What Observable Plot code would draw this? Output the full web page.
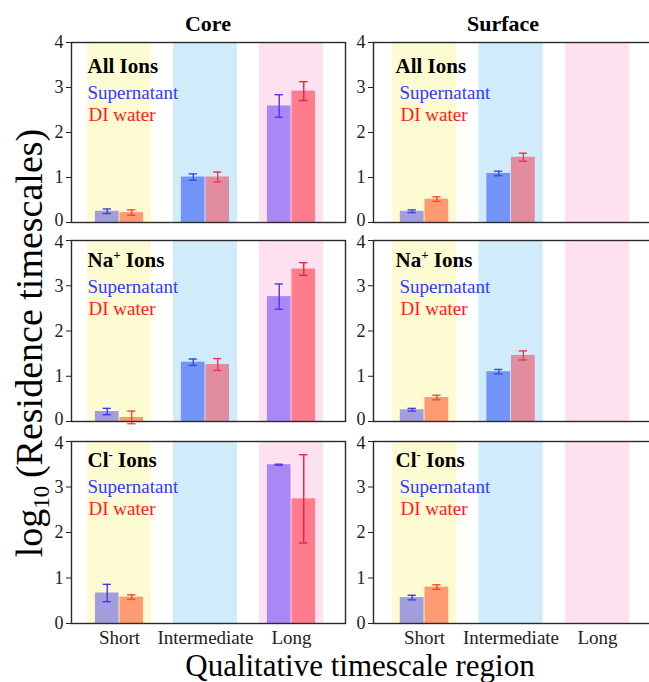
<!DOCTYPE html>
<html><head><meta charset="utf-8">
<script src="https://cdn.jsdelivr.net/npm/d3@7"></script>
<script src="https://cdn.jsdelivr.net/npm/@observablehq/plot@0.6"></script>
<style>
html,body{margin:0;padding:0;background:#fff;}
body{width:649px;height:682px;overflow:hidden;position:relative;font-family:"Liberation Serif","Times New Roman",serif;}
.wrap{position:absolute;}
.wrap svg{display:block;}
.wrap svg text{font-family:"Liberation Serif","Times New Roman",serif;}
#overlay{position:absolute;left:0;top:0;pointer-events:none;}
#overlay text{font-family:"Liberation Serif","Times New Roman",serif;}
</style></head><body>
<script>
// ---------- data ----------
const regions = ["Short", "Intermediate", "Long"];
const locations = ["Core", "Surface"];
const ionTitles = ["All Ions", "Na+ Ions", "Cl- Ions"];
const seriesNames = ["Supernatant", "DI water"];
const yTicks = [0, 1, 2, 3, 4];

// log10 residence timescales (Short, Intermediate, Long); null = no bar
const coreAllSup = [0.25, 1.01, 2.59];
const coreAllSupErr = [0.05, 0.07, 0.25];
const coreAllDI = [0.22, 1.01, 2.92];
const coreAllDIErr = [0.06, 0.11, 0.21];
const surfAllSup = [0.25, 1.09, null];
const surfAllSupErr = [0.03, 0.05, null];
const surfAllDI = [0.52, 1.45, null];
const surfAllDIErr = [0.05, 0.09, null];

const coreNaSup = [0.22, 1.31, 2.76];
const coreNaSupErr = [0.07, 0.07, 0.28];
const coreNaDI = [0.09, 1.26, 3.37];
const coreNaDIErr = [0.14, 0.13, 0.14];
const surfNaSup = [0.26, 1.10, null];
const surfNaSupErr = [0.03, 0.05, null];
const surfNaDI = [0.53, 1.46, null];
const surfNaDIErr = [0.05, 0.10, null];

const coreClSup = [0.67, null, 3.49];
const coreClSupErr = [0.19, null, 0.01];
const coreClDI = [0.58, null, 2.74];
const coreClDIErr = [0.05, null, 0.97];
const surfClSup = [0.57, null, null];
const surfClSupErr = [0.05, null, null];
const surfClDI = [0.80, null, null];
const surfClDIErr = [0.05, null, null];

// ---------- styles ----------
const bandColors = ["#fdfbd1", "#d0ecfa", "#fde1f0"];
const supBarColors = ["#a29ede", "#7395f7", "#a987f5"];
const diBarColors = ["#ff9b72", "#e28ca0", "#ff7c8d"];
const supErrColors = ["#3d3ee6", "#2f4cf0", "#4a3be8"];
const diErrColors = ["#ff4a22", "#e83550", "#f0203c"];
const supTextColor = "#2f3cff";
const diTextColor = "#ff1a1a";
const FONT = "'Liberation Serif', 'Times New Roman', serif";

const grid = [
  [[coreAllSup, coreAllSupErr, coreAllDI, coreAllDIErr], [surfAllSup, surfAllSupErr, surfAllDI, surfAllDIErr]],
  [[coreNaSup, coreNaSupErr, coreNaDI, coreNaDIErr], [surfNaSup, surfNaSupErr, surfNaDI, surfNaDIErr]],
  [[coreClSup, coreClSupErr, coreClDI, coreClDIErr], [surfClSup, surfClSupErr, surfClDI, surfClDIErr]]
];

// layout (pixels)
const rowsPx = [[42, 222], [240, 421], [441, 623]];
const cols = [
  {left: 0, axis: 71, right: 345, domain: [-0.558, 2.628], tickPad: 6.5, textDx: [16, 16, 17]},
  {left: 302, axis: 373, right: 660, domain: [-0.59, 2.728], tickPad: 7, textDx: [22, 26, 27]}
];
const barHalf = 0.28, gap = 0.005, bandHalf = 0.372, capHalf = 0.048;

function makePanel(r, c) {
  const [sup, supErr, di, diErr] = grid[r][c];
  const col = cols[c];
  const [top, bottom] = rowsPx[r];
  const mt = 5, mb = r === 2 ? 40 : 5, ml = 71, mr = 6;
  const width = ml + (col.right - col.axis) + mr;
  const height = mt + (bottom - top) + mb;

  const bands = regions.map((name, i) => ({x1: i - bandHalf, x2: i + bandHalf, fill: bandColors[i]}));
  const bars = [], errs = [];
  regions.forEach((name, i) => {
    if (sup[i] != null) {
      bars.push({x1: i - barHalf, x2: i - gap, y: sup[i], fill: supBarColors[i]});
      errs.push({x: i - (barHalf + gap) / 2, y: sup[i], e: supErr[i], stroke: supErrColors[i]});
    }
    if (di[i] != null) {
      bars.push({x1: i + gap, x2: i + barHalf, y: di[i], fill: diBarColors[i]});
      errs.push({x: i + (barHalf + gap) / 2, y: di[i], e: diErr[i], stroke: diErrColors[i]});
    }
  });
  const caps = errs.flatMap(d => [{...d, yc: d.y - d.e}, {...d, yc: d.y + d.e}]);

  const dy0 = [30, 26, 25][r];
  const marks = [
    Plot.rect(bands, {x1: "x1", x2: "x2", y1: 0, y2: 4, fill: "fill"}),
    Plot.rect(bars, {x1: "x1", x2: "x2", y1: 0, y2: "y", fill: "fill"}),
    Plot.ruleX(errs, {x: "x", y1: d => d.y - d.e, y2: d => d.y + d.e, stroke: "stroke", strokeWidth: 1.4}),
    Plot.ruleY(caps, {y: "yc", x1: d => d.x - capHalf, x2: d => d.x + capHalf, stroke: "stroke", strokeWidth: 1.4}),
    Plot.frame({stroke: "#2a2a2a", strokeWidth: 1.4}),
    Plot.axisY({ticks: yTicks, tickSize: 5, tickPadding: 3, tickFormat: d => String(d), label: null, fontSize: 18, fontFamily: FONT}),
    Plot.text([ionTitles[r]], {frameAnchor: "top-left", dx: col.textDx[0], dy: dy0, textAnchor: "start", lineAnchor: "bottom", fontWeight: "bold", fontSize: 21, fill: "#000", fontFamily: FONT}),
    Plot.text([seriesNames[0]], {frameAnchor: "top-left", dx: col.textDx[1], dy: dy0 + 26, textAnchor: "start", lineAnchor: "bottom", fontSize: 19, fill: supTextColor, fontFamily: FONT}),
    Plot.text([seriesNames[1]], {frameAnchor: "top-left", dx: col.textDx[2], dy: dy0 + 48, textAnchor: "start", lineAnchor: "bottom", fontSize: 19, fill: diTextColor, fontFamily: FONT})
  ];
  if (r === 2) {
    marks.push(Plot.axisX({ticks: [0, 1, 2], tickFormat: i => regions[i], tickSize: 0, tickPadding: col.tickPad, label: null, fontSize: 19, fontFamily: FONT}));
  }
  const svg = Plot.plot({
    width, height,
    marginLeft: ml, marginRight: mr, marginTop: mt, marginBottom: mb,
    x: {domain: col.domain, axis: r === 2 ? undefined : null},
    y: {domain: [0, 4]},
    color: {type: "identity"},
    style: {fontFamily: FONT, fontSize: "19px", color: "#222", background: "transparent", overflow: "visible"},
    marks
  });
  const ns = "http://www.w3.org/2000/svg";
  svg.querySelectorAll("text").forEach(t => {
    // superscripts for ion charges
    const m = t.textContent.match(/^(Na|Cl)([+-]) Ions$/);
    if (m) {
      t.textContent = "";
      const a = document.createElementNS(ns, "tspan"); a.textContent = m[1];
      const b = document.createElementNS(ns, "tspan"); b.textContent = m[2];
      b.setAttribute("font-size", "13"); b.setAttribute("dy", "-8");
      const cc = document.createElementNS(ns, "tspan"); cc.textContent = " Ions"; cc.setAttribute("dy", "8");
      t.append(a, b, cc);
    }
  });
  // nudge end tick labels so stacked panels' "0" and "4" don't collide
  svg.querySelectorAll('g[aria-label="y-axis tick label"] text').forEach(t => {
    const v = t.textContent.trim();
    if (v === "0" && r < 2) t.setAttribute("dy", (parseFloat(t.getAttribute("dy")) || 0) - 2);
    if (v === "4" && r > 0) t.setAttribute("dy", (parseFloat(t.getAttribute("dy")) || 0) + 2);
  });
  const wrap = document.createElement("div");
  wrap.className = "wrap";
  wrap.style.left = col.left + "px";
  wrap.style.top = (top - mt) + "px";
  wrap.style.width = width + "px";
  wrap.appendChild(svg);
  document.body.appendChild(wrap);
}

for (let r = 0; r < 3; r++) for (let c = 0; c < 2; c++) makePanel(r, c);

// ---------- overlay text ----------
const ov = d3.select(document.body).append("svg").attr("id", "overlay")
  .attr("width", 649).attr("height", 682).attr("font-family", FONT);
ov.append("text").attr("x", 208).attr("y", 31).attr("text-anchor", "middle")
  .attr("font-weight", "bold").attr("font-size", 22).text(locations[0]);
ov.append("text").attr("x", 503).attr("y", 31).attr("text-anchor", "middle")
  .attr("font-weight", "bold").attr("font-size", 22).text(locations[1]);
ov.append("text").attr("x", 360).attr("y", 676).attr("text-anchor", "middle")
  .attr("font-size", 31).text("Qualitative timescale region");
const yl = ov.append("text").attr("transform", "translate(42,343) rotate(-90)")
  .attr("text-anchor", "middle").attr("font-size", 38);
yl.append("tspan").text("log");
yl.append("tspan").attr("font-size", 23).attr("dy", 7).text("10");
yl.append("tspan").attr("dy", -7).text("\u2009(Residence timescales)");
</script>
</body></html>
